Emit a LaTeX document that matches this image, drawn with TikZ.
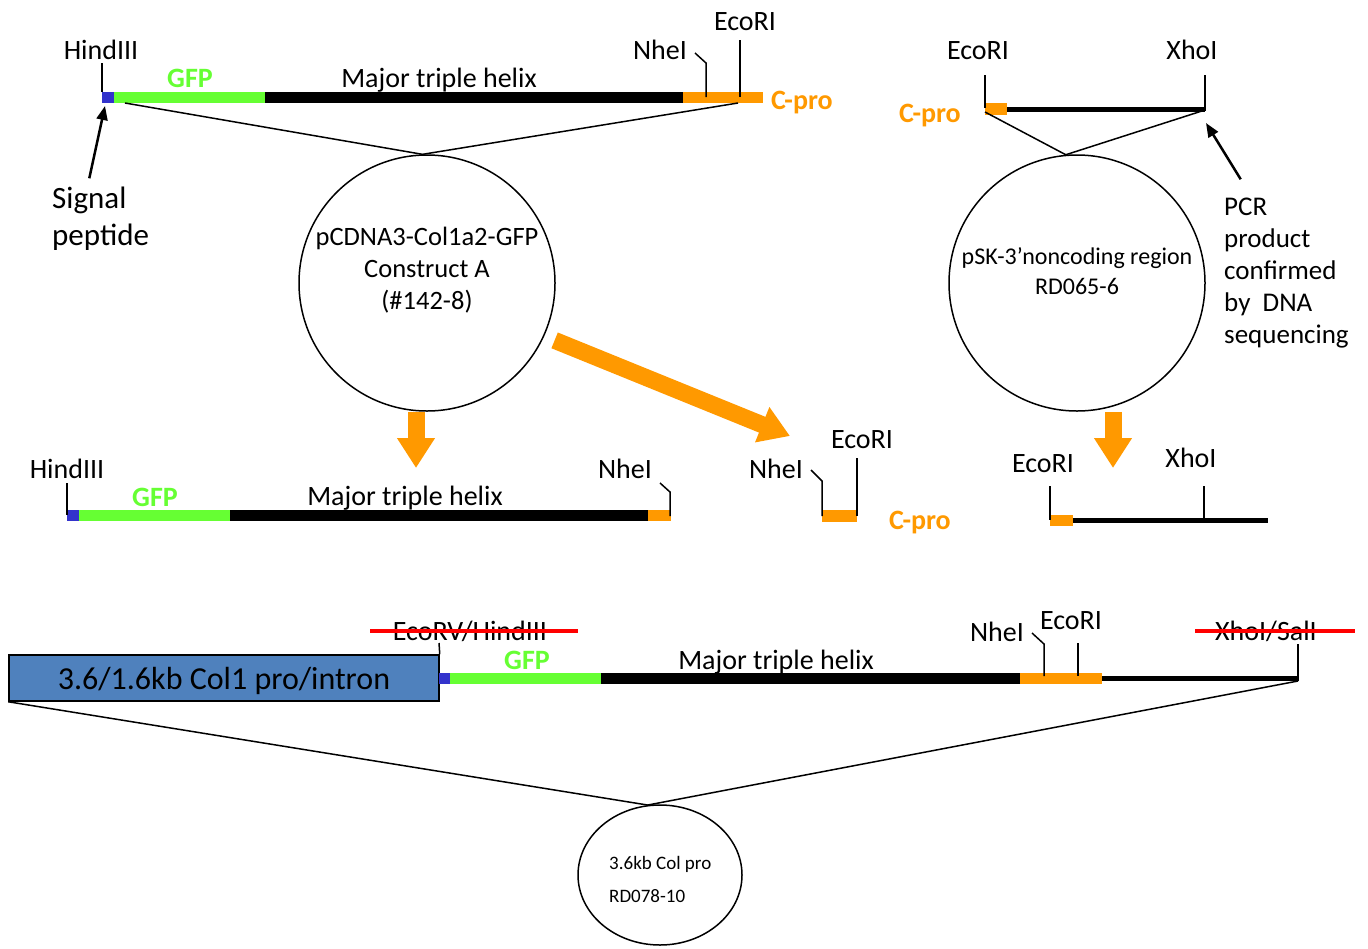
\documentclass[tikz,border=0pt]{standalone}
\usepackage{fontspec}
\setmainfont{Carlito}
\usetikzlibrary{arrows.meta,shapes.geometric}
\definecolor{gfpgreen}{HTML}{66FF33}
\definecolor{cprocol}{HTML}{FF9900}
\definecolor{sigcol}{HTML}{3333CC}
\definecolor{procol}{HTML}{4F81BD}
\begin{document}
\begin{tikzpicture}[x=1pt,y=-1pt,
  site/.style={inner sep=0pt,anchor=base,font=\fontsize{28}{33}\selectfont},
  gfplbl/.style={site,text=gfpgreen,font=\fontsize{28}{33}\selectfont\bfseries},
  cprolbl/.style={site,text=cprocol,font=\fontsize{28}{33}\selectfont\bfseries},
  note/.style={site,anchor=base west,font=\fontsize{27}{32}\selectfont},
  cut/.style={black,line width=1.5pt},
  strike/.style={red,line width=3.5pt},
  link/.style={black,line width=1.5pt},
  plasmid/.style={draw,circle,line width=1.5pt,minimum size=256pt,inner sep=0pt},
  fold/.style={cprocol,line width=17pt,-{Triangle[length=30pt,width=36pt]}},
  pointer/.style={black,line width=2.5pt,-{Triangle[length=14pt,width=11pt]}}]
\useasboundingbox (0,0) rectangle (1368,948);
\fill[white] (0,0) rectangle (1368,948);
% construct A
\fill[sigcol] (102,92) rectangle (114,103);
\fill[gfpgreen] (114,92) rectangle (265,103);
\fill[black] (265,92) rectangle (683,103);
\fill[cprocol] (683,92) rectangle (763,103);
\coordinate (hindA) at (102,92);
\draw[cut] (hindA) -- ++(0,-29);
\draw[cut] (695,53) -- (706,63) -- (706,97);
\draw[cut] (740,40) -- (740,97);
\node[site] (hindAlbl) at (101,59) {HindIII};
\node[gfplbl] (gfpA) at (190,87) {GFP};
\node[site] (helixA) at (439,87) {Major triple helix};
\node[site] (nheAlbl) at (660,59) {NheI};
\node[site] (ecoAlbl) at (745,30) {EcoRI};
\node[cprolbl,anchor=base west] (cproA) at (771,109) {C-pro};
\node[site,anchor=base west,font=\fontsize{31}{36}\selectfont] (sig1) at (52,208) {Signal};
\node[site,anchor=base west,font=\fontsize{31}{36}\selectfont] (sig2) at (52,245) {peptide};
\coordinate (sigtip) at (105,106);
\draw[pointer] ([yshift=8pt]sig1.north) -- (sigtip);
\node[plasmid] (circA) at (427,283) {};
\node[site,font=\fontsize{26.5}{31}\selectfont] (circAt1) at (427,245) {pCDNA3-Col1a2-GFP};
\node[site,font=\fontsize{26.5}{31}\selectfont] (circAt2) at (427,277) {Construct A};
\node[site,font=\fontsize{26.5}{31}\selectfont] (circAt3) at (427,309) {(\#142-8)};
\coordinate (startA) at (125,103);
\coordinate (endA) at (738,103);
\draw[link] (startA) -- (circA.92) -- (endA);
% 3' noncoding region
\fill[cprocol] (985,103) rectangle (1007,115);
\draw[black,line width=5pt] (1007,109) -- (1205,109);
\draw[cut] (985,75) -- (985,108);
\draw[cut] (1205,75) -- (1205,111);
\node[site] (ecoBlbl) at (978,59) {EcoRI};
\node[site] (xhoBlbl) at (1192,59) {XhoI};
\node[cprolbl] (cproB) at (930,122) {C-pro};
\node[plasmid] (circB) at (1077,283) {};
\node[site,font=\fontsize{24}{29}\selectfont] (circBt1) at (1077,264) {pSK-3’noncoding region};
\node[site,font=\fontsize{24}{29}\selectfont] (circBt2) at (1077,294) {RD065-6};
\coordinate (startB) at (985,112);
\coordinate (endB) at (1205,110);
\draw[link] (startB) -- (circB.95) -- (endB);
\node[note] (pcr1) at (1224,215) {PCR};
\node[note] (pcr2) at (1224,247) {product};
\node[note] (pcr3) at (1224,279) {confirmed};
\node[note] (pcr4) at (1224,311) {by\ \ DNA};
\node[note] (pcr5) at (1224,343) {sequencing};
\coordinate (pcrtip) at (1206,123);
\draw[pointer] ([shift={(-5pt,18pt)}]pcr1.north) -- (pcrtip);
% orange arrows
\coordinate (dnA) at (416,468);
\draw[fold] (circA.south -| dnA) -- (dnA);
\coordinate (diagA) at (790,436);
\draw[fold] (circA.-24) ++(10,5) -- (diagA);
\coordinate (dnB) at (1113,468);
\draw[fold] (circB.south -| dnB) -- (dnB);
% digested pieces
\fill[sigcol] (67,510) rectangle (79,521);
\fill[gfpgreen] (79,510) rectangle (230,521);
\fill[black] (230,510) rectangle (648,521);
\fill[cprocol] (648,510) rectangle (671,521);
\draw[cut] (67,483) -- (67,515);
\draw[cut] (660,483) -- (670,492) -- (670,516);
\node[site] (hindClbl) at (67,478) {HindIII};
\node[gfplbl] (gfpC) at (155,506) {GFP};
\node[site] (helixC) at (405,505) {Major triple helix};
\node[site] (nheClbl) at (625,478) {NheI};
\fill[cprocol] (822,510) rectangle (857,522);
\draw[cut] (811,470) -- (822,481) -- (822,516);
\draw[cut] (857,458) -- (857,516);
\node[site] (nheDlbl) at (776,478) {NheI};
\node[site] (ecoDlbl) at (862,448) {EcoRI};
\node[cprolbl] (cproD) at (920,529) {C-pro};
\fill[cprocol] (1050,515) rectangle (1073,526);
\draw[black,line width=5pt] (1073,520) -- (1268,520);
\draw[cut] (1050,486) -- (1050,520);
\draw[cut] (1204,486) -- (1204,520);
\node[site] (ecoElbl) at (1043,472) {EcoRI};
\node[site] (xhoElbl) at (1191,467) {XhoI};
% final construct
\node[draw=black,fill=procol,line width=1.5pt,minimum width=430pt,minimum height=46pt,inner sep=0pt,text height=26pt,text depth=3pt,font=\fontsize{32}{38}\selectfont] (promoter) at (224,678) {3.6/1.6kb Col1 pro/intron};
\fill[sigcol] (439,673) rectangle (450,684);
\fill[gfpgreen] (450,673) rectangle (601,684);
\fill[black] (601,673) rectangle (1020,684);
\fill[cprocol] (1020,673) rectangle (1102,684);
\draw[black,line width=4.5pt] (1102,678.5) -- (1298,678.5);
\draw[cut] (439,643) -- (promoter.north east);
\draw[cut] (1032,633) -- (1044,644) -- (1044,676);
\draw[cut] (1078,643) -- (1078,676);
\draw[cut] (1298,644) -- (1298,681);
\node[site] (ecoRVlbl) at (470,640) {EcoRV/HindIII};
\draw[strike] (370,631) -- (578,631);
\node[gfplbl] (gfpF) at (527,669) {GFP};
\node[site] (helixF) at (776,669) {Major triple helix};
\node[site] (nheFlbl) at (997,641) {NheI};
\node[site] (ecoFlbl) at (1071,629) {EcoRI};
\node[site] (xhoFlbl) at (1266,640) {XhoI/SalI};
\draw[strike] (1195,631) -- (1355,631);
\node[draw,ellipse,line width=1.5pt,minimum width=164pt,minimum height=140pt,inner sep=0pt] (colpro) at (660,875) {};
\node[site,anchor=base west,font=\fontsize{19}{23}\selectfont] (colprot1) at (609,869) {3.6kb Col pro};
\node[site,anchor=base west,font=\fontsize{19}{23}\selectfont] (colprot2) at (609,902) {RD078-10};
\coordinate (endF) at (1298,681);
\draw[link] (promoter.south west) -- (colpro.100) -- (endF);
\end{tikzpicture}
\end{document}
